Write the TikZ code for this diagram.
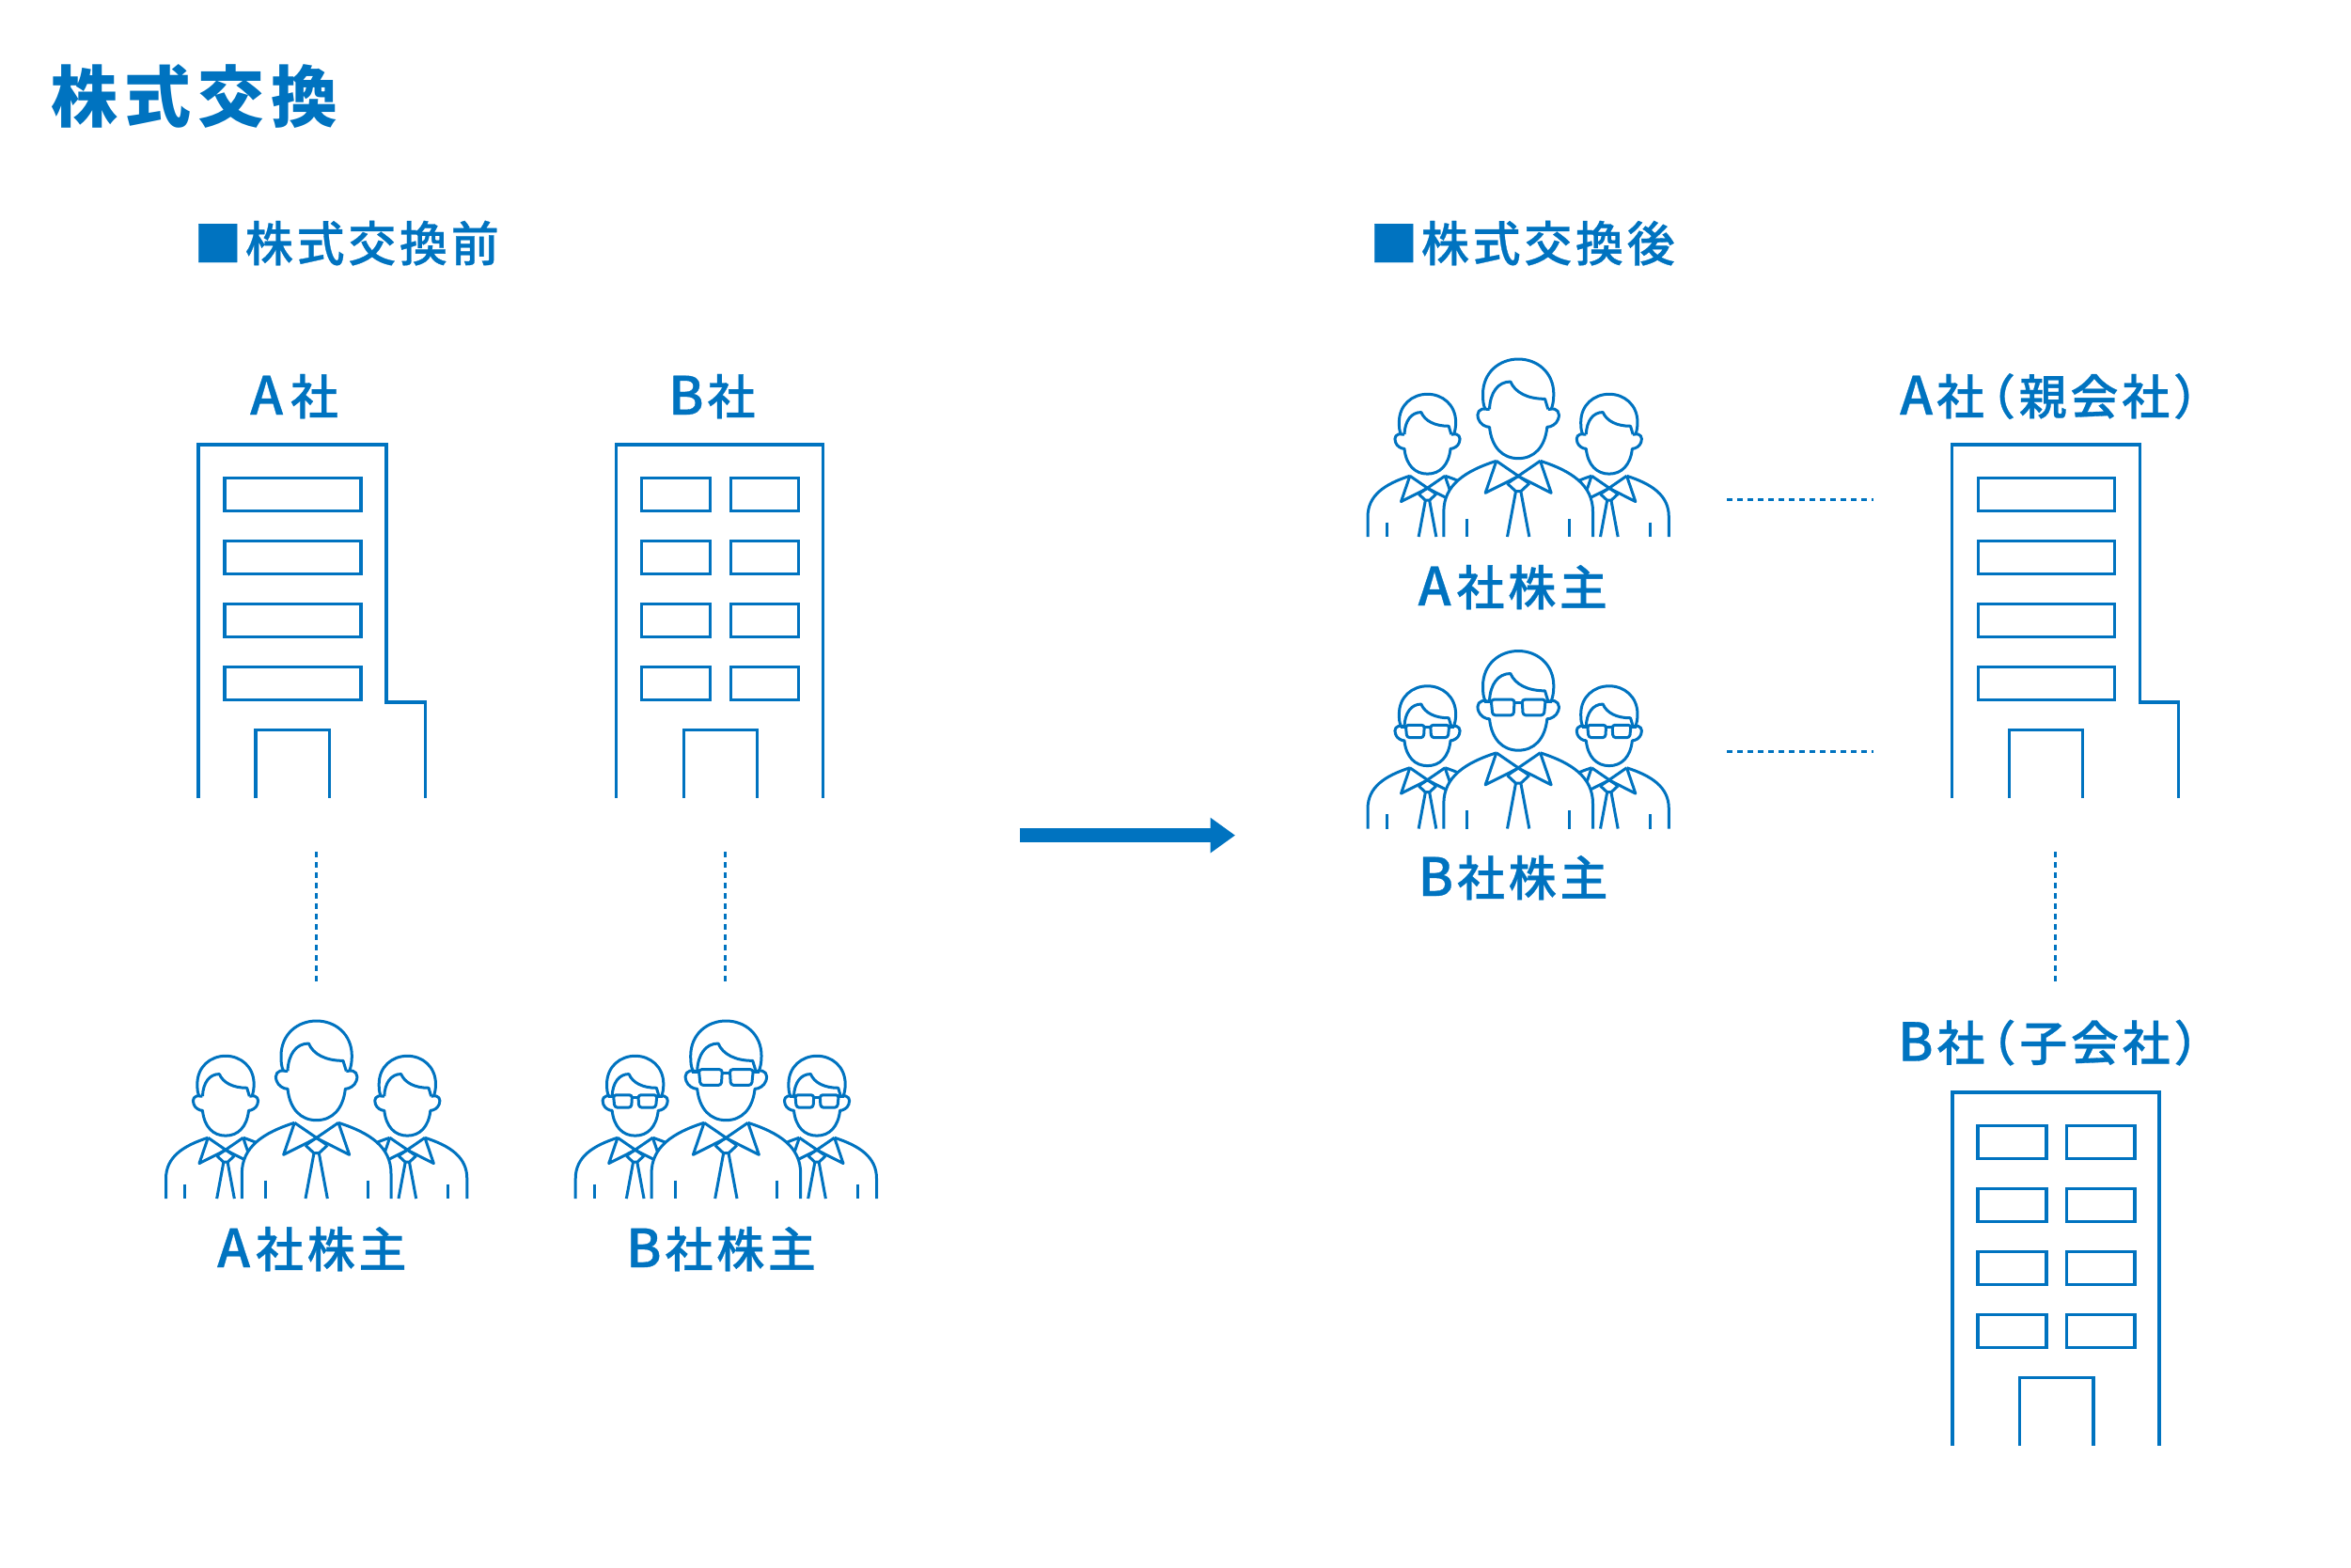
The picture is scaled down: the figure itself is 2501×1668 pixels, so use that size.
\documentclass[tikz,border=0pt]{standalone}
\usepackage{fontspec}
\usetikzlibrary{arrows.meta}
\newfontfamily\jp[LetterSpace=10]{Noto Sans CJK JP}
\newfontfamily\jpm[LetterSpace=7.3,FakeBold=0.6]{Noto Sans CJK JP Medium}
\definecolor{kblue}{HTML}{0073C0}
\newcommand{\Lt}[1]{{\fontsize{56}{60}\selectfont #1}}
\tikzset{
  ln/.style={draw=kblue,line width=3.1pt,line cap=butt,line join=miter,fill=none},
  pl/.style={draw=kblue,line width=3pt,line cap=butt,line join=round,fill=none},
  dotline/.style={draw=kblue,line width=3.3pt,dash pattern=on 5.5pt off 5.5pt},
  ttl/.style={anchor=base west,inner sep=0pt,text=kblue,font=\jp\bfseries\fontsize{71}{80}\selectfont},
  lbl/.style={anchor=base west,inner sep=0pt,text=kblue,font=\jpm\fontsize{51}{60}\selectfont}
}
% one person: centre on x=0; y in the icon's own units
\newcommand{\onefigure}[1]{%
  \path[fill=white] (-70,403) .. controls (-170,435) and (-238,480) .. (-238,565) -- (-238,650) -- (238,650) -- (238,565) .. controls (238,480) and (170,435) .. (70,403) -- cycle;
  \draw[pl] (-238,645) -- (-238,565) .. controls (-238,480) and (-170,435) .. (-70,403);
  \draw[pl] (238,645) -- (238,565) .. controls (238,480) and (170,435) .. (70,403);
  \draw[pl] (-70,403) -- (35,475);
  \draw[pl] (70,403) -- (-35,475);
  \draw[pl] (-70,403) -- (-105,505) -- (0,452) -- (105,505) -- (70,403);
  \draw[pl] (-35,475) -- (-8,500) -- (8,500) -- (35,475);
  \draw[pl] (-8,500) -- (-35,645);
  \draw[pl] (8,500) -- (35,645);
  \draw[pl] (-163,587) -- (-163,645);
  \draw[pl] (163,587) -- (163,645);
  \draw[pl] (-105,238) .. controls (-112,225) and (-113,210) .. (-113,190) .. controls (-113,120) and (-60,78) .. (0,78) .. controls (60,78) and (113,120) .. (113,190) .. controls (113,210) and (110,225) .. (105,238);
  \draw[pl] (-92,238) .. controls (-90,185) and (-65,150) .. (-25,150) .. controls (-10,185) and (30,205) .. (85,205) -- (95,238);
  \draw[pl] (-92,238) -- (-100,238) .. controls (-125,232) and (-135,250) .. (-127,270) .. controls (-122,285) and (-105,295) .. (-92,295) .. controls (-85,360) and (-50,395) .. (0,395) .. controls (50,395) and (85,360) .. (92,295) .. controls (105,295) and (122,285) .. (127,270) .. controls (135,250) and (125,232) .. (100,238) -- (95,238);
  #1%
}
\newcommand{\specs}{%
  \draw[pl,rounded corners=3pt] (-87,233) -- (-12,233) -- (-15,283) -- (-82,283) -- cycle;
  \draw[pl,rounded corners=3pt] (12,233) -- (87,233) -- (82,283) -- (15,283) -- cycle;
  \draw[pl] (-12,243) -- (12,243);
  \draw[pl] (-87,240) -- (-108,240);
  \draw[pl] (87,240) -- (108,240);
}
% group of three people; #1,#2 = icon origin, #3 = extra drawing (glasses)
\newcommand{\people}[3]{%
  \begin{scope}[shift={(#1,#2)},scale=1/3]
    \begin{scope}[shift={(270,127.2)},xscale=.8,yscale=.803]\onefigure{#3}\end{scope}
    \begin{scope}[shift={(850,127.2)},xscale=.8,yscale=.803]\onefigure{#3}\end{scope}
    \begin{scope}[shift={(560,0)}]\onefigure{#3}\end{scope}
  \end{scope}}
\newcommand{\towerA}[2]{%
  \begin{scope}[shift={(#1,#2)}]
    \draw[ln] (0,376) -- (0,0) -- (200,0) -- (200,274) -- (241.5,274) -- (241.5,376);
    \foreach \yy in {35.5,102.5,169.5,236.5} \draw[ln] (28,\yy) rectangle (173,\yy+35);
    \draw[ln] (61,376) -- (61,303.5) -- (139.5,303.5) -- (139.5,376);
  \end{scope}}
\newcommand{\towerB}[2]{%
  \begin{scope}[shift={(#1,#2)}]
    \draw[ln] (0,376) -- (0,0) -- (220,0) -- (220,376);
    \foreach \yy in {35.5,102.5,169.5,236.5} {
      \draw[ln] (27,\yy) rectangle (100,\yy+35);
      \draw[ln] (121.5,\yy) rectangle (194,\yy+35);}
    \draw[ln] (71.5,376) -- (71.5,303.5) -- (150,303.5) -- (150,376);
  \end{scope}}
\begin{document}
\begin{tikzpicture}[x=1pt,y=-1pt]
\useasboundingbox (0,0) rectangle (2501,1668);
\node[ttl] (title) at (54,129) {株式交換};
\node[lbl] (hbefore) at (206,278) {■株式交換前};
\node[lbl] (hafter) at (1457,278) {■株式交換後};
\node[lbl] (la) at (266,441) {\Lt{A}\kern8pt 社};
\node[lbl] (lb) at (711,441) {\Lt{B}\kern4pt 社};
\towerA{211}{473}
\towerB{655.7}{473}
\node[lbl] (lsa) at (231,1348) {\Lt{A}\kern6pt 社株主};
\node[lbl] (lsb) at (666,1348) {\Lt{B}\kern4pt 社株主};
\people{150}{1060}{}
\people{585.7}{1060}{\specs}
\coordinate (d1a) at (336.3,906); \coordinate (d1b) at (336.3,1044);
\coordinate (d2a) at (771.4,906); \coordinate (d2b) at (771.4,1044);
\draw[dotline] (d1a) -- (d1b);
\draw[dotline] (d2a) -- (d2b);
\coordinate (arrowa) at (1084.5,888.6); \coordinate (arrowb) at (1314,888.6);
\draw[draw=kblue,line width=14.7pt,-{Triangle[length=26.5pt,width=36pt,fill=kblue]}] (arrowa) -- (arrowb);
\people{1428.5}{356}{}
\people{1428.5}{666.5}{\specs}
\node[lbl] (rsa) at (1508.5,644) {\Lt{A}\kern6pt 社株主};
\node[lbl] (rsb) at (1508.5,953) {\Lt{B}\kern4pt 社株主};
\node[lbl] (rla) at (2021,441) {\Lt{A}\kern4pt 社\kern-18pt（親会社）};
\node[lbl] (rlb) at (2019,1128.5) {\Lt{B}\kern4pt 社\kern-18pt（子会社）};
\towerA{2076.2}{473}
\towerB{2077}{1162}
\coordinate (d3a) at (1837,531.7); \coordinate (d3b) at (1993,531.7);
\coordinate (d4a) at (1837,799.7); \coordinate (d4b) at (1993,799.7);
\coordinate (d5a) at (2186.7,906); \coordinate (d5b) at (2186.7,1044);
\draw[dotline] (d3a) -- (d3b);
\draw[dotline] (d4a) -- (d4b);
\draw[dotline] (d5a) -- (d5b);
\end{tikzpicture}
\end{document}
